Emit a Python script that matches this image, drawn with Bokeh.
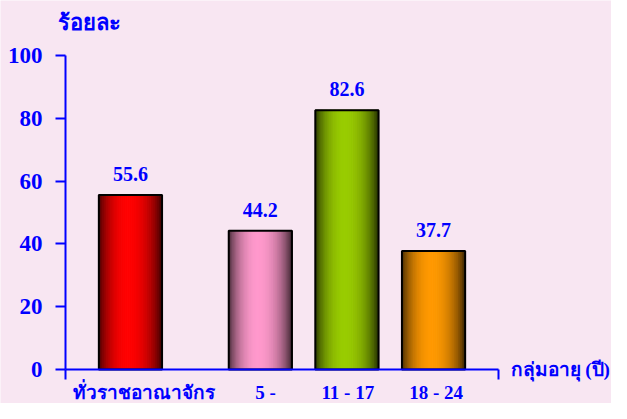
import numpy as np
from bokeh.plotting import figure
from bokeh.models import Range1d, FixedTicker, LabelSet, Label, ColumnDataSource
from bokeh.core.properties import value
from bokeh.embed import file_html
from bokeh.resources import INLINE

# ---- data ----
categories = ["ทั่วราชอาณาจักร", "5 -", "11 - 17", "18 - 24"]
percent = [55.6, 44.2, 82.6, 37.7]
bar_colors = [(255, 0, 0), (255, 153, 204), (153, 204, 0), (255, 153, 0)]
y_ticks = [0, 20, 40, 60, 80, 100]
y_title = "ร้อยละ"
x_title = "กลุ่มอายุ (ปี)"

# ---- layout ----
W, H = 611, 403
LEFT = 65                  # pixel of x = 0
X_END_PX = 498             # pixel of x = 5
Y100_PX, Y0_PX = 55, 369   # pixels of y = 100 and y = 0
x_px = (X_END_PX - LEFT) / 5.0
y_px = (Y0_PX - Y100_PX) / 100.0

slots = [0.75, 2.25, 3.25, 4.25]
label_shift = [0.16, 0.06, 0.01, 0.03]
bar_w = 0.73
BG = "#F8E6F2"
BLUE = "#0000FF"
SERIF = "Liberation Serif"

x_range = Range1d(-LEFT / x_px, (W - LEFT) / x_px)
y_range = Range1d(-(H - Y0_PX) / y_px, 100 + Y100_PX / y_px)

p = figure(width=W, height=H, output_backend="svg", toolbar_location=None,
           x_range=x_range, y_range=y_range,
           min_border_left=0, min_border_right=0, min_border_top=0,
           min_border_bottom=0)
p.background_fill_color = BG
p.border_fill_color = BG
p.outline_line_color = None
p.xgrid.visible = False
p.ygrid.visible = False

# y axis at x = 0
ya = p.yaxis[0]
ya.fixed_location = 0
ya.ticker = FixedTicker(ticks=y_ticks)
ya.bounds = (0, 100)
ya.axis_line_color = BLUE
ya.axis_line_width = 2
ya.major_tick_line_color = BLUE
ya.major_tick_line_width = 2
ya.major_tick_out = 10
ya.major_tick_in = 0
ya.minor_tick_line_color = None
ya.major_label_text_font = SERIF
ya.major_label_text_font_style = "bold"
ya.major_label_text_font_size = "23px"
ya.major_label_text_color = BLUE
ya.major_label_standoff = 13

# x axis at y = 0: category labels as major ticks (no marks), boundary ticks as minor
lab_pos = [s + d for s, d in zip(slots, label_shift)]
xa = p.xaxis[0]
xa.fixed_location = 0
xa.bounds = (0, 5)
xa.ticker = FixedTicker(ticks=lab_pos, minor_ticks=[0, 5])
xa.major_label_overrides = {s: c for s, c in zip(lab_pos, categories)}
xa.axis_line_color = BLUE
xa.axis_line_width = 2
xa.major_tick_line_color = None
xa.major_tick_out = 0
xa.major_tick_in = 0
xa.minor_tick_line_color = BLUE
xa.minor_tick_line_width = 2
xa.minor_tick_out = 10
xa.minor_tick_in = 0
xa.major_label_standoff = 2
xa.major_label_text_font = SERIF
xa.major_label_text_font_style = "bold"
xa.major_label_text_font_size = "19px"
xa.major_label_text_color = BLUE

# cylindrical gradient bars built from thin stripes
N = 48
peak = 0.47
lo = 0.22
for xc, v, col in zip(slots, percent, bar_colors):
    edges = np.linspace(xc - bar_w / 2, xc + bar_w / 2, N + 1)
    u = (np.arange(N) + 0.5) / N
    d = np.where(u < peak, (u - peak) / peak, (u - peak) / (1 - peak))
    f = np.clip(1 - d ** 2, 0, 1) ** 0.8
    k = lo + (1 - lo) * f
    cols = ["#%02x%02x%02x" % tuple(int(round(c * kk)) for c in col) for kk in k]
    p.quad(left=edges[:-1], right=edges[1:], bottom=0, top=v,
           fill_color=cols, line_color=cols, line_width=1)

src = ColumnDataSource(dict(x=slots, top=percent,
                            left=[s - bar_w / 2 for s in slots],
                            right=[s + bar_w / 2 for s in slots],
                            lab=["%.1f" % v for v in percent]))
p.quad(left="left", right="right", bottom=0, top="top", source=src,
       fill_color=None, line_color="black", line_width=2)

# value labels
p.add_layout(LabelSet(x="x", y="top", text="lab", source=src, y_offset=14,
                      text_align="center", text_baseline="bottom",
                      text_font=value(SERIF), text_font_style="bold",
                      text_font_size="20px", text_color=BLUE))

# axis titles
p.add_layout(Label(x=0, y=100, x_offset=-8, y_offset=33, text=y_title,
                   text_align="left", text_baseline="middle",
                   text_font=SERIF, text_font_style="bold",
                   text_font_size="22px", text_color=BLUE))
p.add_layout(Label(x=5, y=0, x_offset=12, y_offset=0, text=x_title,
                   text_align="left", text_baseline="middle",
                   text_font=SERIF, text_font_style="bold",
                   text_font_size="19px", text_color=BLUE))

open("out.html", "w").write(file_html(p, INLINE))
